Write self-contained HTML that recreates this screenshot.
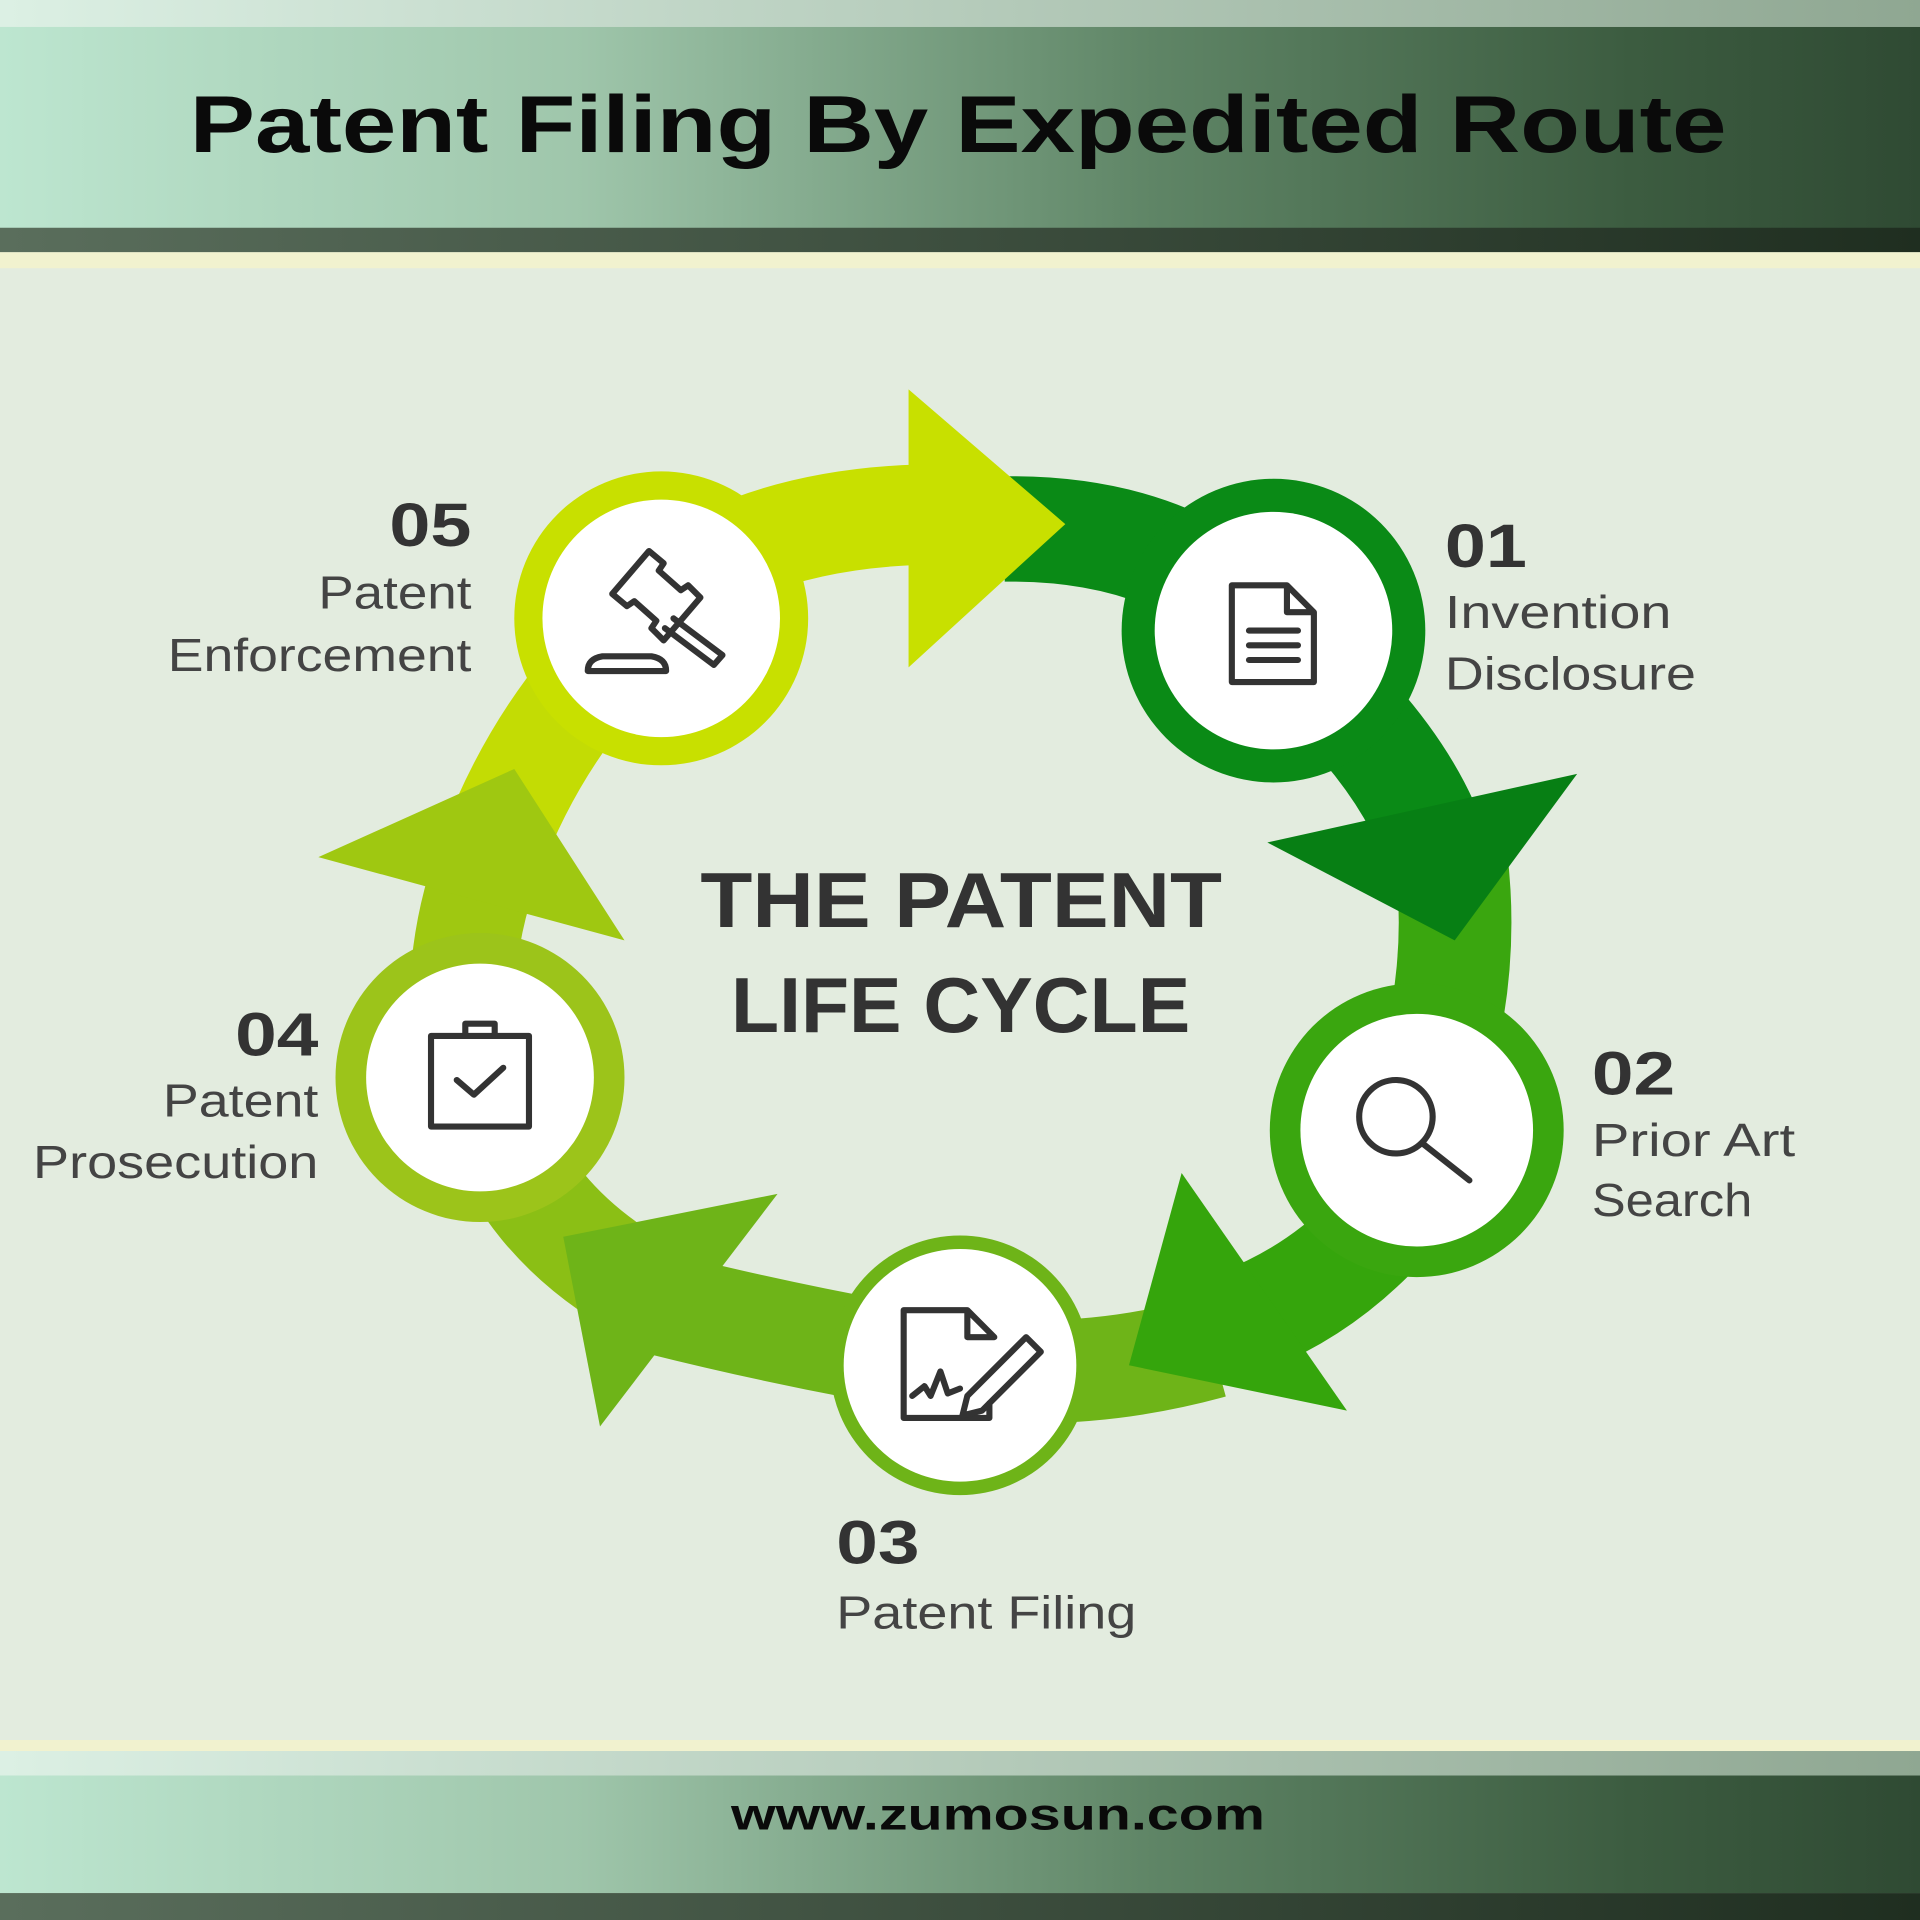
<!DOCTYPE html>
<html><head><meta charset="utf-8"><style>
html,body{margin:0;padding:0;width:1920px;height:1920px;overflow:hidden;background:#e3ecdf}
svg{display:block}
</style></head><body>
<svg width="1920" height="1920" viewBox="0 0 1568 1568" xmlns="http://www.w3.org/2000/svg" font-family="Liberation Sans, sans-serif">
<defs>
<linearGradient id="band" x1="0" x2="1" y1="0" y2="0">
<stop offset="0" stop-color="#bde6d0"/><stop offset="0.3" stop-color="#9fc6ab"/><stop offset="0.6" stop-color="#5f8566"/><stop offset="0.85" stop-color="#3c5c40"/><stop offset="1" stop-color="#2f4a33"/></linearGradient>
<linearGradient id="top" x1="0" x2="1"><stop offset="0" stop-color="#dcf0e4"/><stop offset="1" stop-color="#8fa792"/></linearGradient>
<linearGradient id="dark" x1="0" x2="1"><stop offset="0" stop-color="#5a6e5c"/><stop offset="1" stop-color="#1f2e20"/></linearGradient>
</defs>
<rect width="1568" height="1568" fill="#e3ecdf"/>
<rect x="0" y="0" width="1568" height="22" fill="url(#top)"/>
<rect x="0" y="22" width="1568" height="166" fill="url(#band)"/>
<rect x="0" y="186" width="1568" height="20" fill="url(#dark)"/>
<rect x="0" y="206" width="1568" height="13" fill="#f1f2cf"/>
<text x="155" y="124" font-size="66" font-weight="bold" fill="#0a0a0a" textLength="1255" lengthAdjust="spacingAndGlyphs">Patent Filing By Expedited Route</text>
<rect x="0" y="1421" width="1568" height="9" fill="#f1f2cf"/>
<rect x="0" y="1430" width="1568" height="20" fill="url(#top)"/>
<rect x="0" y="1450" width="1568" height="96" fill="url(#band)"/>
<rect x="0" y="1546" width="1568" height="22" fill="url(#dark)"/>
<text x="597" y="1494" font-size="36" font-weight="bold" fill="#0a0a0a" textLength="436" lengthAdjust="spacingAndGlyphs">www.zumosun.com</text>

<g fill="none" stroke-linecap="butt">
<path d="M470,560 Q560,420 770,420" stroke="#c8e000" stroke-width="82"/>
<path d="M820,432 Q980,430 1060,540 Q1150,620 1175,700" stroke="#0a8a16" stroke-width="86"/>
<path d="M1185,700 Q1195,780 1175,860" stroke="#3aa60f" stroke-width="92"/>
<path d="M1120,1010 Q1060,1070 980,1090" stroke="#35a50c" stroke-width="88"/>
<path d="M990,1100 Q880,1130 784,1115 Q660,1095 540,1065" stroke="#6eb418" stroke-width="84"/>
<path d="M540,1060 Q420,1000 392,880" stroke="#8bbf15" stroke-width="86"/>
<path d="M380,860 Q370,780 400,700" stroke="#9fc811" stroke-width="86"/>
<path d="M400,700 Q430,620 480,560" stroke="#c3dc04" stroke-width="86"/>
</g>
<polygon points="742,318 870,428 742,545" fill="#c8e000"/>
<polygon points="1035,688 1288,632 1188,768" fill="#077f14"/>
<polygon points="965,958 1100,1152 922,1115" fill="#35a50c"/>
<polygon points="460,1010 635,975 490,1165" fill="#6eb418"/>
<polygon points="260,700 420,628 510,768" fill="#9fc811"/>

<circle cx="1040" cy="515" r="124" fill="#0a8a16"/><circle cx="1040" cy="515" r="97" fill="#fff"/>
<circle cx="1157" cy="923" r="120" fill="#3aa60f"/><circle cx="1157" cy="923" r="95" fill="#fff"/>
<circle cx="784" cy="1115" r="106" fill="#6eb418"/><circle cx="784" cy="1115" r="95" fill="#fff"/>
<circle cx="392" cy="880" r="118" fill="#9cc41a"/><circle cx="392" cy="880" r="93" fill="#fff"/>
<circle cx="540" cy="505" r="120" fill="#c8e000"/><circle cx="540" cy="505" r="97" fill="#fff"/>

<g fill="none" stroke="#333" stroke-width="5" stroke-linejoin="round" stroke-linecap="round">
<path d="M1006,478 h45 l22,22 v57 h-67 z M1051,478 v22 h22"/>
<path d="M1020,515 h40 M1020,527 h40 M1020,539 h40"/>
<circle cx="1140" cy="912" r="30"/><path d="M1162,934 L1200,964"/>
<path d="M738,1070 h52 l22,22 M738,1070 v88 h70 v-12 M790,1070 v22 h22"/>
<path d="M745,1140 l10,-8 l5,8 l8,-20 l6,18 l10,-4"/>
<path d="M790,1140 l48,-48 l12,12 l-48,48 l-16,4 z"/>
<path d="M352,846 h80 v74 h-80 z"/>
<path d="M380,846 v-10 h24 v10"/>
<path d="M373,882 l14,12 l24,-22"/>
<path d="M500,485 l30,-35 l12,10 l-4,6 l18,16 l6,-4 l10,10 l-30,35 l-10,-10 l4,-6 l-18,-16 l-6,4 z"/>
<path d="M550,505 l40,30 l-7,8 l-40,-30"/>
<path d="M480,548 q0,-10 12,-12 h40 q12,2 12,12 z"/>
</g>

<g font-weight="bold" fill="#333" font-size="64">
<text x="572" y="757" textLength="426" lengthAdjust="spacingAndGlyphs">THE PATENT</text>
<text x="597" y="843" textLength="375" lengthAdjust="spacingAndGlyphs">LIFE CYCLE</text>
</g>
<g fill="#333">
<text x="318" y="446" font-size="50" font-weight="bold" textLength="67" lengthAdjust="spacingAndGlyphs">05</text>
<text x="260" y="497" font-size="38" fill="#444" textLength="125" lengthAdjust="spacingAndGlyphs">Patent</text>
<text x="137" y="548" font-size="38" fill="#444" textLength="248" lengthAdjust="spacingAndGlyphs">Enforcement</text>
<text x="1180" y="463" font-size="50" font-weight="bold" textLength="67" lengthAdjust="spacingAndGlyphs">01</text>
<text x="1180" y="513" font-size="38" fill="#444" textLength="185" lengthAdjust="spacingAndGlyphs">Invention</text>
<text x="1180" y="563" font-size="38" fill="#444" textLength="205" lengthAdjust="spacingAndGlyphs">Disclosure</text>
<text x="1300" y="894" font-size="50" font-weight="bold" textLength="68" lengthAdjust="spacingAndGlyphs">02</text>
<text x="1300" y="944" font-size="38" fill="#444" textLength="166" lengthAdjust="spacingAndGlyphs">Prior Art</text>
<text x="1300" y="993" font-size="38" fill="#444" textLength="131" lengthAdjust="spacingAndGlyphs">Search</text>
<text x="683" y="1277" font-size="50" font-weight="bold" textLength="68" lengthAdjust="spacingAndGlyphs">03</text>
<text x="683" y="1330" font-size="38" fill="#444" textLength="245" lengthAdjust="spacingAndGlyphs">Patent Filing</text>
<text x="192" y="862" font-size="50" font-weight="bold" textLength="68" lengthAdjust="spacingAndGlyphs">04</text>
<text x="133" y="912" font-size="38" fill="#444" textLength="127" lengthAdjust="spacingAndGlyphs">Patent</text>
<text x="27" y="962" font-size="38" fill="#444" textLength="233" lengthAdjust="spacingAndGlyphs">Prosecution</text>
</g>
</svg>
</body></html>
